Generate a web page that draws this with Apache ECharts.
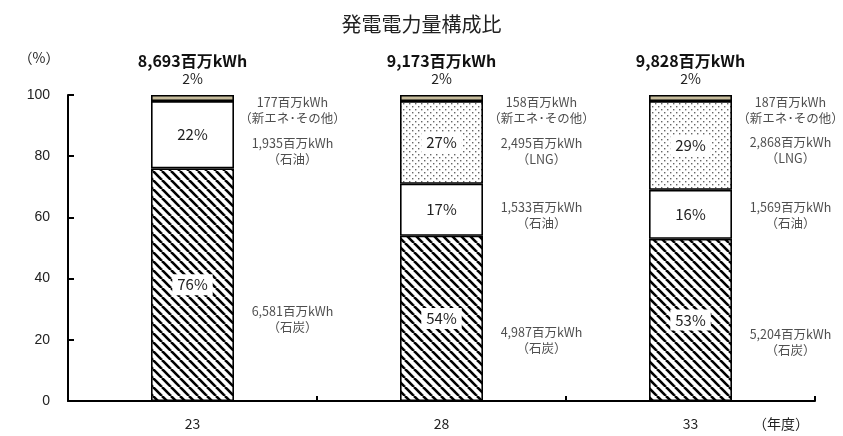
<!DOCTYPE html>
<html><head><meta charset="utf-8">
<script src="https://cdn.jsdelivr.net/npm/echarts@6/dist/echarts.min.js"></script>
<style>html,body{margin:0;padding:0;background:#fff}#c{width:843px;height:436px}</style>
</head><body><div id="c"></div>
<script>
// ---- data ----
var categories = ['23', '28', '33'];
var totals = ['8,693百万kWh', '9,173百万kWh', '9,828百万kWh'];
var coalPct = [76, 54, 53];
var oilPct = [22, 17, 16];
var lngPct = [null, 27, 29];
var newPct = [2, 2, 2];
var coalKwh = ['6,581', '4,987', '5,204'];
var oilKwh = ['1,935', '1,533', '1,569'];
var lngKwh = [null, '2,495', '2,868'];
var newKwh = ['177', '158', '187'];
var yTicks = [0, 20, 40, 60, 80, 100];

var FONT = '"Noto Sans CJK JP", "Liberation Sans", sans-serif';

function hatch() {
  var s = 9, c = document.createElement('canvas');
  c.width = s; c.height = s;
  var g = c.getContext('2d');
  g.fillStyle = '#fff'; g.fillRect(0, 0, s, s);
  g.strokeStyle = '#000'; g.lineWidth = 2.6;
  [-s, 0, s].forEach(function (o) {
    g.beginPath(); g.moveTo(o, 0); g.lineTo(o + s, s); g.stroke();
  });
  return c;
}
function dots() {
  var s = 6, c = document.createElement('canvas');
  c.width = s; c.height = s;
  var g = c.getContext('2d');
  g.fillStyle = '#fff'; g.fillRect(0, 0, s, s);
  g.fillStyle = '#666';
  g.fillRect(1, 1, 1.4, 1.4);
  g.fillRect(4, 4, 1.4, 1.4);
  return c;
}

var border = { borderColor: '#000', borderWidth: 1.6 };
var pctLabel = function (bg) {
  return {
    show: true, position: 'inside', fontFamily: FONT, fontSize: 15, color: '#222',
    backgroundColor: bg ? '#fff' : 'transparent', padding: bg ? [3, 5] : 0,
    formatter: function (p) { return p.value == null ? '' : p.value + '%'; }
  };
};

function barSeries(name, vals, color, label) {
  return {
    name: name, type: 'bar', stack: 'a', barWidth: 83,
    data: vals.map(function (v) { return v; }),
    itemStyle: Object.assign({ color: color }, border),
    label: label, emphasis: { disabled: true }, z: 2
  };
}

// annotation helper: cumulative midpoints of segments
function cum(arrs, idx, i) {
  var s = 0;
  for (var k = 0; k < idx; k++) s += arrs[k][i] || 0;
  return s;
}
var stackArrs = [coalPct, oilPct, lngPct, newPct];
var annoDefs = [
  { idx: 0, kwh: coalKwh, name: '石炭', dy: [35, 22, 22] },
  { idx: 1, kwh: oilKwh, name: '石油', dy: [16, 5, 1] },
  { idx: 2, kwh: lngKwh, name: 'LNG', dy: [0, 9, 5] },
  { idx: 3, kwh: newKwh, name: '新エネ･その他', dy: [12, 12, 12] }
];
var annoSeries = annoDefs.map(function (d) {
  var data = [];
  categories.forEach(function (c, i) {
    var v = stackArrs[d.idx][i];
    if (v == null) return;
    var mid = cum(stackArrs, d.idx, i) + v / 2;
    data.push({
      value: [c, mid],
      label: {
        offset: [100, d.dy[i]],
        formatter: d.kwh[i] + '百万kWh\n（' + d.name + '）'
      }
    });
  });
  return {
    type: 'scatter', symbolSize: 1, itemStyle: { color: 'transparent' },
    data: data, silent: true, z: 5,
    label: {
      show: true, position: 'inside', align: 'center', verticalAlign: 'middle',
      fontFamily: FONT, fontSize: 12.5, color: '#222', lineHeight: 16
    }
  };
});

var chart = echarts.init(document.getElementById('c'), null, { renderer: 'canvas' });
chart.setOption({
  animation: false,
  backgroundColor: '#fff',
  title: {
    text: '発電電力量構成比', left: 'center', top: 9,
    textStyle: { fontFamily: FONT, fontSize: 20, fontWeight: 'normal', color: '#222' }
  },
  grid: { left: 68, right: 28, top: 95, bottom: 35 },
  xAxis: [{
    type: 'category', data: categories, position: 'bottom',
    axisLine: { lineStyle: { color: '#000', width: 2 } },
    axisTick: { show: true, inside: true, length: 5, interval: 0, lineStyle: { color: '#000', width: 2 } },
    axisLabel: { fontFamily: FONT, fontSize: 14, color: '#222', margin: 16 },
    name: '（年度）', nameLocation: 'end', nameGap: -62,
    nameTextStyle: { fontFamily: FONT, fontSize: 14, color: '#222', verticalAlign: 'top', padding: [16, 0, 0, 0] }
  }, {
    type: 'category', data: totals, position: 'top',
    axisLine: { show: false }, axisTick: { show: false },
    axisLabel: { fontFamily: FONT, fontSize: 16, fontWeight: 'bold', color: '#111', margin: 26 }
  }],
  yAxis: {
    type: 'value', min: yTicks[0], max: yTicks[yTicks.length - 1], interval: 20,
    axisLine: { show: true, lineStyle: { color: '#000', width: 2 } },
    axisTick: { show: true, inside: true, length: 6, lineStyle: { color: '#000', width: 2 } },
    splitLine: { show: false },
    axisLabel: { fontFamily: '"Liberation Sans", Arial, sans-serif', fontSize: 14, color: '#222', margin: 18 },
    name: '（%）', nameLocation: 'end', nameGap: 30,
    nameTextStyle: { fontFamily: FONT, fontSize: 14, color: '#222', padding: [0, 58, 0, 0] }
  },
  series: [
    barSeries('石炭', coalPct, { image: hatch(), repeat: 'repeat' }, pctLabel(true)),
    barSeries('石油', oilPct, '#fff', pctLabel(false)),
    barSeries('LNG', lngPct, { image: dots(), repeat: 'repeat' }, pctLabel(true)),
    barSeries('新エネ･その他', newPct, '#c6bc9c', {
      show: true, position: 'top', distance: 9, fontFamily: FONT, fontSize: 14, color: '#222',
      formatter: '{c}%'
    })
  ].concat(annoSeries)
});
</script>
</body></html>
